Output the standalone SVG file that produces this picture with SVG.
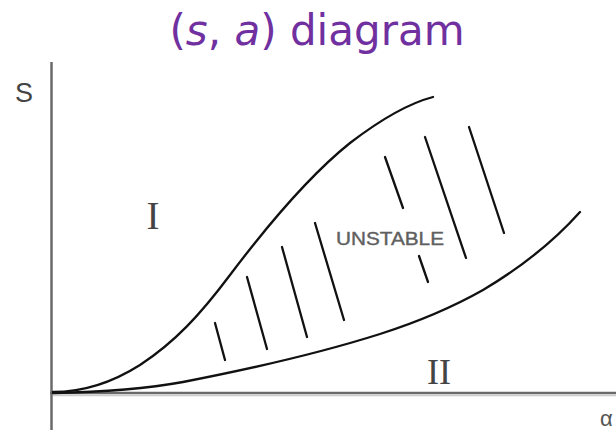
<svg xmlns="http://www.w3.org/2000/svg" width="616" height="430" viewBox="0 0 616 430">
<style>
.curve{fill:none;stroke:#111;stroke-width:2.3;stroke-linecap:round}
.hatch{stroke:#111;stroke-width:2.3;stroke-linecap:round}
.axis{stroke:#6a6a6a;stroke-width:2.5;fill:none}
.roman{font-family:"Liberation Serif",serif;fill:#444}
</style>
<rect width="616" height="430" fill="#fff"/>
<g id="title">
<text x="317" y="45" text-anchor="middle" font-family="DejaVu Sans, Verdana, sans-serif" font-size="42" fill="#7030A0">(<tspan font-style="italic">s</tspan>, <tspan font-style="italic">a</tspan>) diagram</text>
</g>
<g id="axes">
<line class="axis" x1="51.5" y1="62" x2="51.5" y2="430"/>
<line class="axis" x1="50" y1="393" x2="616" y2="393"/>
<line x1="53" y1="395.5" x2="616" y2="395.5" stroke="#ccc" stroke-width="1.5"/>
<text x="15" y="102" font-family="Liberation Sans, Arial, sans-serif" font-size="27" fill="#444">S</text>
<text x="600" y="426" font-family="Liberation Sans, Arial, sans-serif" font-size="22" fill="#555">α</text>
</g>
<g id="boundaries">
<path id="upper-curve" class="curve" d="M53,392 C80,392 110,384 140,365 C175,342 200,315 230,275 C270,222 310,175 350,143 C380,120 410,103 433,97"/>
<path id="lower-curve" class="curve" d="M53,393 C100,392 150,388 183,382 C250,369 320,353 380,334 C430,318 460,303 483,290 C520,268 555,240 580,212"/>
</g>
<g id="hatching">
<line class="hatch" x1="215" y1="323" x2="225" y2="360"/>
<line class="hatch" x1="247" y1="277" x2="267" y2="349"/>
<line class="hatch" x1="282" y1="247" x2="307" y2="337"/>
<line class="hatch" x1="315" y1="223" x2="344" y2="320"/>
<line class="hatch" x1="385" y1="157" x2="403" y2="208"/>
<line class="hatch" x1="419" y1="256" x2="428" y2="282"/>
<line class="hatch" x1="425" y1="137" x2="466" y2="258"/>
<line class="hatch" x1="469" y1="127" x2="504" y2="233"/>
</g>
<g id="labels">
<text class="roman" x="153" y="229" text-anchor="middle" font-size="39">I</text>
<text class="roman" x="439" y="384" text-anchor="middle" font-size="36">II</text>
<text x="336" y="245" font-family="Liberation Sans, Arial, sans-serif" font-size="19" fill="#606060" stroke="#606060" stroke-width="0.4" textLength="108" lengthAdjust="spacingAndGlyphs">UNSTABLE</text>
</g>
</svg>
